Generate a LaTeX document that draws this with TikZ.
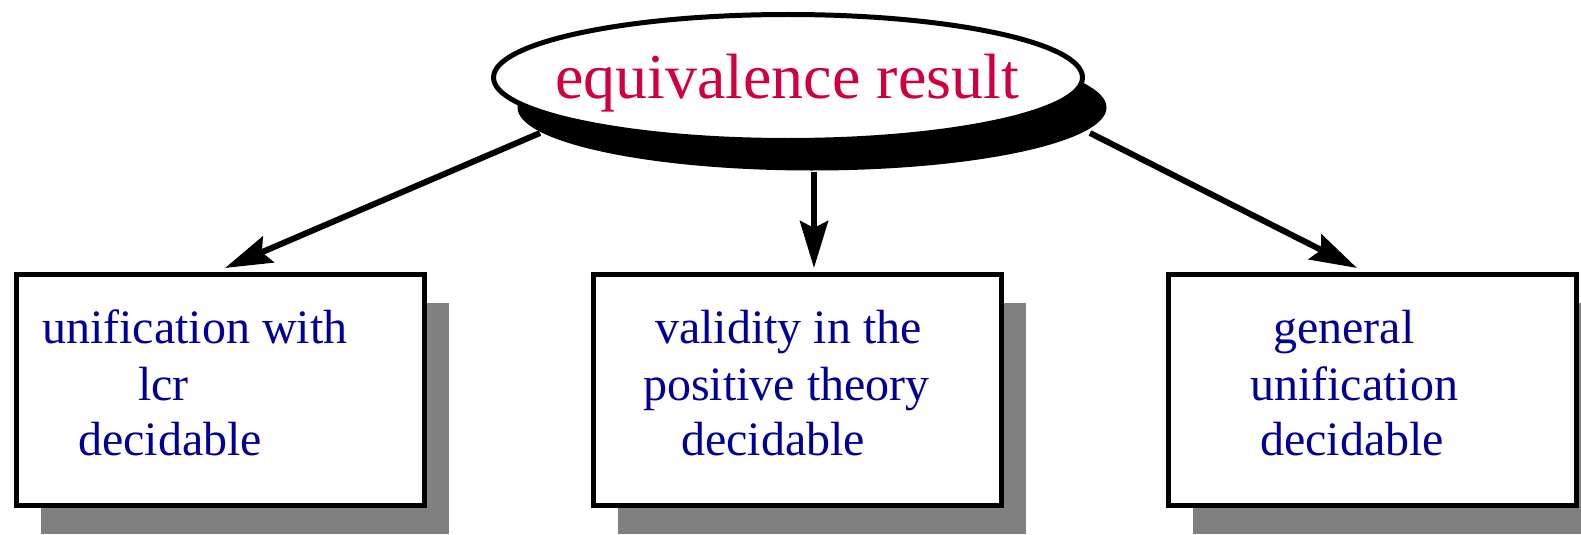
\documentclass[tikz,border=0pt]{standalone}
\usepackage{fontspec}
\setmainfont{Liberation Serif}
\usetikzlibrary{shapes.geometric,shadows,arrows.meta}
\definecolor{titlered}{RGB}{208,0,64}
\definecolor{boxblue}{RGB}{0,0,150}
\tikzset{
  titleell/.style={ellipse, draw=black, fill=white, line width=5pt, inner sep=0pt,
    minimum width=589pt, minimum height=126pt,
    drop shadow={shadow xshift=24pt, shadow yshift=-30pt, fill=black, opacity=1}},
  titletext/.style={text=titlered, font=\fontsize{64}{70}\selectfont, inner sep=0pt, anchor=base},
  resbox/.style={rectangle, draw=black, fill=white, line width=5.5pt, inner sep=0pt,
    minimum width=408pt, minimum height=231pt,
    drop shadow={shadow xshift=24pt, shadow yshift=-28pt, fill=black!50, opacity=1}},
  boxtext/.style={text=boxblue, font=\fontsize{48}{57}\selectfont, inner sep=0pt, anchor=base west},
  conn/.style={line width=6pt, -{Stealth[length=47pt,width=28pt,inset=7pt]}}
}
\begin{document}
\begin{tikzpicture}[x=1pt,y=-1pt]
\clip (0,0) rectangle (1581,535);
\fill[white] (0,0) rectangle (1581,535);
% title
\node[titleell] (E) at (788,77.5) {};
\node[titletext] (T) at (787,98.5) {equivalence result};
% boxes
\node[resbox] (B1) at (220.5,390) {};
\node[resbox] (B2) at (797.5,390) {};
\node[resbox] (B3) at (1372.5,390) {};
% box texts
\node[boxtext] (b1a) at (42,343) {unification with};
\node[boxtext] (b1b) at (138,400) {lcr};
\node[boxtext] (b1c) at (78,455) {decidable};
\node[boxtext] (b2a) at (655,343) {validity in the};
\node[boxtext] (b2b) at (643,400) {positive theory};
\node[boxtext] (b2c) at (681,455) {decidable};
\node[boxtext] (b3a) at (1273,343) {general};
\node[boxtext] (b3b) at (1250,400) {unification};
\node[boxtext] (b3c) at (1260,455) {decidable};
% connector ends
\coordinate (s1) at (540,133);
\coordinate (s2) at (814,172);
\coordinate (s3) at (1090,133);
\coordinate (t1) at (225,268);
\coordinate (t2) at (814,268);
\coordinate (t3) at (1357,268);
\draw[conn] (s1) -- (t1);
\draw[conn] (s2) -- (t2);
\draw[conn] (s3) -- (t3);
\end{tikzpicture}
\end{document}
